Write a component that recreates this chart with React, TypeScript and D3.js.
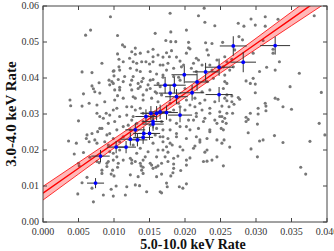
import * as d3 from "d3";

// tick values
const xTicks = [0, 0.005, 0.01, 0.015, 0.02, 0.025, 0.03, 0.035, 0.04];
const yTicks = [0, 0.01, 0.02, 0.03, 0.04, 0.05, 0.06];

// fitted relation and its confidence band
const fitIntercept = 0.0080;
const fitSlope = 1.384;
const bandX = [0, 0.005, 0.01, 0.015, 0.02, 0.025, 0.03, 0.035, 0.04];
const bandHalf = [0.0019, 0.0016, 0.0013, 0.0011, 0.0011, 0.0012, 0.0015, 0.0019, 0.0023];

// selected sources (blue, with errors)
const blueX = [0.0327, 0.0268, 0.0282, 0.0248, 0.0229, 0.0199, 0.0217, 0.0172, 0.0185, 0.021, 0.0179, 0.0188, 0.0248, 0.0193, 0.0174, 0.0165, 0.016, 0.0152, 0.0145, 0.0155, 0.0155, 0.013, 0.0142, 0.015, 0.0141, 0.0123, 0.0133, 0.0103, 0.0117, 0.0081, 0.0074];
const blueY = [0.049, 0.0489, 0.0444, 0.043, 0.0417, 0.0409, 0.0389, 0.038, 0.038, 0.0359, 0.0358, 0.0348, 0.0354, 0.0297, 0.0304, 0.0306, 0.0302, 0.0302, 0.0293, 0.0279, 0.0272, 0.0256, 0.0246, 0.0246, 0.0235, 0.023, 0.0228, 0.0208, 0.0208, 0.0183, 0.0108];
const blueXErr = [0.0021, 0.0019, 0.0018, 0.002, 0.0018, 0.0018, 0.0017, 0.0016, 0.0016, 0.0017, 0.0016, 0.0016, 0.0019, 0.0017, 0.0016, 0.0016, 0.0015, 0.0015, 0.0015, 0.0015, 0.0015, 0.0014, 0.0015, 0.0015, 0.0014, 0.0014, 0.0014, 0.0013, 0.0014, 0.0013, 0.0012];
const blueYErr = [0.0025, 0.0027, 0.0028, 0.0024, 0.0025, 0.0024, 0.0024, 0.0023, 0.0022, 0.0022, 0.0022, 0.0021, 0.0021, 0.002, 0.002, 0.002, 0.002, 0.002, 0.002, 0.0019, 0.0019, 0.0019, 0.0018, 0.0018, 0.0018, 0.0018, 0.0018, 0.0017, 0.0017, 0.0017, 0.0014];

// all other sources (gray)
const grayPoints = [
  [0.0095,0.0570],[0.0060,0.0519],[0.0067,0.0533],[0.0105,0.0518],[0.0105,0.0467],[0.0107,0.0452],[0.0083,0.0441],[0.0055,0.0417],[0.0069,0.0415],[0.0100,0.0420],[0.0107,0.0431],[0.0093,0.0394],[0.0079,0.0387],[0.0100,0.0406],[0.0071,0.0370],[0.0106,0.0396],
  [0.0179,0.0580],[0.0219,0.0573],[0.0227,0.0594],[0.0228,0.0555],[0.0242,0.0545],[0.0158,0.0524],[0.0180,0.0528],[0.0202,0.0533],[0.0173,0.0504],[0.0187,0.0501],[0.0180,0.0501],[0.0205,0.0499],[0.0205,0.0484],[0.0229,0.0498],[0.0238,0.0496],[0.0112,0.0492],[0.0115,0.0487],[0.0207,0.0481],[0.0231,0.0478],[0.0155,0.0480],[0.0181,0.0476],[0.0130,0.0483],[0.0130,0.0466],[0.0122,0.0455],[0.0113,0.0445],[0.0139,0.0445],[0.0155,0.0459],[0.0169,0.0458],[0.0178,0.0459],[0.0188,0.0458],[0.0193,0.0447],[0.0212,0.0441],[0.0219,0.0450],[0.0145,0.0445],[0.0150,0.0439],[0.0132,0.0441],[0.0165,0.0436],[0.0176,0.0441],[0.0184,0.0427],[0.0195,0.0431],[0.0099,0.0419],[0.0108,0.0422],[0.0123,0.0427],[0.0137,0.0418],[0.0151,0.0418],[0.0160,0.0411],[0.0174,0.0422],[0.0115,0.0404],[0.0127,0.0404],[0.0141,0.0399],[0.0155,0.0396],[0.0169,0.0402],[0.0191,0.0402],[0.0097,0.0390],[0.0123,0.0381],[0.0134,0.0385],[0.0148,0.0381],[0.0165,0.0376],[0.0108,0.0374],[0.0216,0.0418],[0.0235,0.0436],
  [0.0293,0.0564],[0.0313,0.0570],[0.0331,0.0563],[0.0275,0.0552],[0.0283,0.0544],[0.0299,0.0547],[0.0313,0.0544],[0.0382,0.0573],[0.0276,0.0515],[0.0281,0.0506],[0.0253,0.0499],[0.0310,0.0504],[0.0270,0.0478],[0.0296,0.0469],[0.0324,0.0480],[0.0324,0.0469],[0.0333,0.0445],[0.0266,0.0452],[0.0259,0.0445],[0.0254,0.0431],[0.0268,0.0431],[0.0263,0.0422],[0.0305,0.0418],[0.0315,0.0430],[0.0327,0.0422],[0.0361,0.0413],[0.0296,0.0399],[0.0286,0.0392],[0.0292,0.0385],[0.0348,0.0376],[0.0256,0.0390],[0.0259,0.0385],
  [0.0038,0.0339],[0.0039,0.0323],[0.0055,0.0322],[0.0050,0.0281],[0.0065,0.0330],[0.0076,0.0325],[0.0087,0.0334],[0.0080,0.0358],[0.0073,0.0362],[0.0057,0.0356],[0.0069,0.0378],[0.0094,0.0381],[0.0101,0.0367],[0.0105,0.0351],[0.0089,0.0302],[0.0099,0.0311],[0.0076,0.0302],[0.0080,0.0293],[0.0047,0.0219],[0.0036,0.0225],[0.0061,0.0232],[0.0069,0.0246],[0.0077,0.0251],[0.0065,0.0223],[0.0076,0.0219],[0.0090,0.0242],[0.0099,0.0232],[0.0087,0.0223],[0.0080,0.0260],[0.0104,0.0256],[0.0101,0.0279],[0.0092,0.0274],[0.0044,0.0189],[0.0057,0.0193],[0.0066,0.0180],[0.0094,0.0195],[0.0104,0.0181],[0.0092,0.0168],[0.0076,0.0168],[0.0050,0.0163],
  [0.0051,0.0156],[0.0062,0.0124],[0.0055,0.0109],[0.0049,0.0078],[0.0071,0.0056],[0.0079,0.0165],[0.0090,0.0154],[0.0096,0.0133],[0.0100,0.0128],[0.0105,0.0152],[0.0103,0.0100],[0.0096,0.0091],[0.0099,0.0072],[0.0083,0.0144],[0.0106,0.0163],
  [0.0125,0.0163],[0.0130,0.0168],[0.0138,0.0156],[0.0141,0.0152],[0.0139,0.0144],[0.0153,0.0158],[0.0155,0.0149],[0.0159,0.0152],[0.0162,0.0156],[0.0167,0.0163],[0.0176,0.0168],[0.0184,0.0161],[0.0184,0.0149],[0.0183,0.0137],[0.0194,0.0143],[0.0202,0.0158],[0.0167,0.0133],[0.0180,0.0128],[0.0098,0.0144],[0.0116,0.0075],[0.0136,0.0101],[0.0167,0.0081],[0.0175,0.0098],[0.0192,0.0098],[0.0197,0.0094],[0.0202,0.0106],[0.0231,0.0169],[0.0254,0.0156],[0.0363,0.0152],[0.0370,0.0133],
  [0.0299,0.0383],[0.0299,0.0359],[0.0392,0.0360],[0.0259,0.0353],[0.0266,0.0350],[0.0275,0.0346],[0.0277,0.0341],[0.0259,0.0337],[0.0266,0.0334],[0.0327,0.0344],[0.0331,0.0341],[0.0313,0.0330],[0.0314,0.0322],[0.0303,0.0316],[0.0338,0.0320],[0.0350,0.0313],[0.0252,0.0322],[0.0262,0.0320],[0.0269,0.0327],[0.0259,0.0302],[0.0267,0.0302],[0.0314,0.0309],[0.0292,0.0302],[0.0303,0.0300],[0.0286,0.0291],[0.0289,0.0285],[0.0286,0.0279],[0.0252,0.0293],[0.0253,0.0279],[0.0258,0.0274],[0.0251,0.0260],[0.0302,0.0272],[0.0389,0.0274],[0.0397,0.0242],[0.0289,0.0248],[0.0326,0.0240],[0.0255,0.0228],[0.0252,0.0219],[0.0305,0.0225],[0.0310,0.0228],[0.0338,0.0221],[0.0376,0.0224],[0.0263,0.0208],[0.0293,0.0203],[0.0302,0.0181],
  [0.0062,0.0242],[0.0073,0.0228],[0.0083,0.0260],[0.0085,0.0288],[0.0094,0.0297],[0.0108,0.0293],[0.0118,0.0297],[0.0120,0.0269],[0.0123,0.0256],[0.0069,0.0094],[0.0085,0.0075],[0.0118,0.0098],[0.0130,0.0103],[0.0146,0.0084],[0.0165,0.0084],[0.0174,0.0108],[0.0083,0.0135],[0.0123,0.0131],[0.0134,0.0126],[0.0141,0.0135],[0.0160,0.0126],[0.0151,0.0163],[0.0137,0.0163],[0.0125,0.0172],[0.0113,0.0172],[0.0099,0.0172],[0.0090,0.0163],[0.0144,0.0181],[0.0160,0.0181],[0.0172,0.0181],[0.0132,0.0191],[0.0148,0.0195],[0.0162,0.0200],[0.0174,0.0209],[0.0155,0.0219],[0.0169,0.0223],[0.0127,0.0214],[0.0137,0.0205],[0.0108,0.0200],[0.0099,0.0191],[0.0092,0.0214],[0.0108,0.0223],[0.0113,0.0237],[0.0094,0.0246],[0.0113,0.0265],[0.0125,0.0283],[0.0132,0.0274],[0.0141,0.0279],[0.0151,0.0269],[0.0160,0.0260],[0.0169,0.0256],[0.0158,0.0242],[0.0169,0.0237],[0.0141,0.0302],[0.0155,0.0297],
  [0.0125,0.0473],[0.0137,0.0469],[0.0148,0.0473],[0.0162,0.0464],[0.0174,0.0470],[0.0202,0.0469],[0.0216,0.0455],[0.0233,0.0464],[0.0245,0.0450],[0.0256,0.0459],[0.0127,0.0445],[0.0155,0.0445],[0.0169,0.0436],[0.0198,0.0436],[0.0209,0.0427],[0.0224,0.0436],[0.0238,0.0422],[0.0132,0.0422],[0.0169,0.0408],[0.0184,0.0404],[0.0193,0.0394],[0.0231,0.0390],[0.0240,0.0399],[0.0256,0.0408],[0.0125,0.0394],[0.0139,0.0390],[0.0151,0.0394],[0.0162,0.0385],[0.0125,0.0367],[0.0134,0.0371],[0.0146,0.0367],[0.0158,0.0362],[0.0167,0.0353],[0.0200,0.0371],[0.0224,0.0362],[0.0235,0.0367],[0.0254,0.0371],[0.0130,0.0344],[0.0141,0.0339],[0.0153,0.0344],[0.0162,0.0334],[0.0179,0.0330],[0.0191,0.0330],[0.0202,0.0339],[0.0214,0.0344],[0.0228,0.0339],[0.0242,0.0334],[0.0256,0.0344],[0.0125,0.0320],[0.0137,0.0316],[0.0184,0.0311],[0.0200,0.0311],[0.0214,0.0320],[0.0224,0.0311],[0.0235,0.0316],[0.0249,0.0306],[0.0127,0.0293],[0.0167,0.0279],[0.0179,0.0283],[0.0205,0.0283],[0.0216,0.0293],[0.0228,0.0288],[0.0242,0.0283],[0.0256,0.0288],[0.0179,0.0256],[0.0193,0.0265],[0.0207,0.0256],[0.0219,0.0260],[0.0235,0.0256],[0.0165,0.0237],[0.0176,0.0232],[0.0188,0.0237],[0.0202,0.0232],[0.0216,0.0237],[0.0231,0.0232],
  [0.0182,0.0214],[0.0197,0.0200],[0.0214,0.0211],[0.0228,0.0194],[0.0190,0.0183],[0.0207,0.0178],[0.0238,0.0172],[0.0176,0.0194],[0.0221,0.0222],
  [0.0099,0.0385],[0.0113,0.0390],[0.0108,0.0367],[0.0137,0.0376],[0.0151,0.0371],[0.0160,0.0358],[0.0141,0.0353],[0.0127,0.0348],[0.0113,0.0344],[0.0101,0.0339],[0.0221,0.0330],[0.0207,0.0325],[0.0193,0.0320],[0.0104,0.0316],[0.0118,0.0320],[0.0130,0.0311],[0.0216,0.0302],[0.0235,0.0302],[0.0249,0.0293],[0.0212,0.0283],[0.0226,0.0279],[0.0245,0.0274],[0.0188,0.0274],[0.0202,0.0265],[0.0188,0.0246],[0.0235,0.0251],[0.0254,0.0256],[0.0221,0.0228],[0.0245,0.0228],[0.0179,0.0219],[0.0193,0.0209],[0.0212,0.0205],[0.0231,0.0200],[0.0169,0.0200],[0.0141,0.0172],[0.0123,0.0177],[0.0184,0.0177],[0.0202,0.0172],[0.0226,0.0168],[0.0245,0.0181],
];

const W = 334;
const H = 251;
const margin = { top: 6, right: 7, bottom: 29, left: 43 };
const FONT = "'Liberation Serif', 'DejaVu Serif', serif";

export default function App() {
  const x = d3.scaleLinear().domain([0, 0.04]).range([margin.left, W - margin.right]);
  const y = d3.scaleLinear().domain([0, 0.06]).range([H - margin.bottom, margin.top]);
  const [x0, x1] = x.range();
  const [y0, y1] = y.range();

  const fit = (v: number) => fitIntercept + fitSlope * v;

  const band = d3
    .area<number>()
    .x((d) => x(d))
    .y0((d, i) => y(fit(d) - bandHalf[i]))
    .y1((d, i) => y(fit(d) + bandHalf[i]))
    .curve(d3.curveMonotoneX);
  const upper = d3.line<number>().x((d) => x(d)).y((d, i) => y(fit(d) + bandHalf[i])).curve(d3.curveMonotoneX);
  const lower = d3.line<number>().x((d) => x(d)).y((d, i) => y(fit(d) - bandHalf[i])).curve(d3.curveMonotoneX);
  const centre = d3.line<number>().x((d) => x(d)).y((d) => y(fit(d)));

  const fx = d3.format(".3f");
  const fy = d3.format(".2f");
  const tick = 4;
  const axisColor = "#444";

  return (
    <svg width={W} height={H} style={{ position: "absolute", left: 0, top: 0, background: "#fff" }}>
      <defs>
        <clipPath id="plot">
          <rect x={x0} y={y1} width={x1 - x0} height={y0 - y1} />
        </clipPath>
      </defs>

      <g clipPath="url(#plot)">
        {grayPoints.map((d, i) => (
          <circle key={i} cx={x(d[0])} cy={y(d[1])} r={1.55} fill="#777" />
        ))}
        <path d={band(bandX) || ""} fill="#ff0000" fillOpacity={0.28} />
        <path d={upper(bandX) || ""} fill="none" stroke="#ff0000" strokeWidth={0.8} />
        <path d={lower(bandX) || ""} fill="none" stroke="#ff0000" strokeWidth={0.8} />
        <path d={centre(bandX) || ""} fill="none" stroke="#ff0000" strokeWidth={1.4} />
        {blueX.map((v, i) => (
          <g key={i} stroke="#333" strokeWidth={1}>
            <line x1={x(v - blueXErr[i])} x2={x(v + blueXErr[i])} y1={y(blueY[i])} y2={y(blueY[i])} />
            <line x1={x(v)} x2={x(v)} y1={y(blueY[i] - blueYErr[i])} y2={y(blueY[i] + blueYErr[i])} />
          </g>
        ))}
        {blueX.map((v, i) => (
          <circle key={i} cx={x(v)} cy={y(blueY[i])} r={1.9} fill="#0000ff" />
        ))}
      </g>

      {/* frame */}
      <rect x={x0} y={y1} width={x1 - x0} height={y0 - y1} fill="none" stroke={axisColor} strokeWidth={1} />

      {/* x ticks, inward on bottom and top */}
      {xTicks.map((t) => (
        <g key={t} stroke={axisColor}>
          <line x1={x(t)} x2={x(t)} y1={y0} y2={y0 - tick} />
          <line x1={x(t)} x2={x(t)} y1={y1} y2={y1 + tick} />
        </g>
      ))}
      {xTicks.map((t) => (
        <text key={t} x={x(t)} y={y0 + 12.5} textAnchor="middle" fontFamily={FONT} fontSize={10} fill="#333">
          {fx(t)}
        </text>
      ))}

      {/* y ticks, inward on left and right */}
      {yTicks.map((t) => (
        <g key={t} stroke={axisColor}>
          <line x1={x0} x2={x0 + tick} y1={y(t)} y2={y(t)} />
          <line x1={x1} x2={x1 - tick} y1={y(t)} y2={y(t)} />
        </g>
      ))}
      {yTicks.map((t) => (
        <text key={t} x={x0 - 4} y={y(t) + 3} textAnchor="end" fontFamily={FONT} fontSize={10} fill="#333">
          {fy(t)}
        </text>
      ))}

      <text x={(x0 + x1) / 2 + 8} y={249} textAnchor="middle" fontFamily={FONT} fontSize={14} fontWeight="bold" fill="#111">
        5.0-10.0 keV Rate
      </text>
      <text
        transform={`translate(16,${(y0 + y1) / 2}) rotate(-90)`}
        textAnchor="middle"
        fontFamily={FONT}
        fontSize={15}
        fontWeight="bold"
        fill="#111"
      >
        3.0-4.0 keV Rate
      </text>
    </svg>
  );
}
